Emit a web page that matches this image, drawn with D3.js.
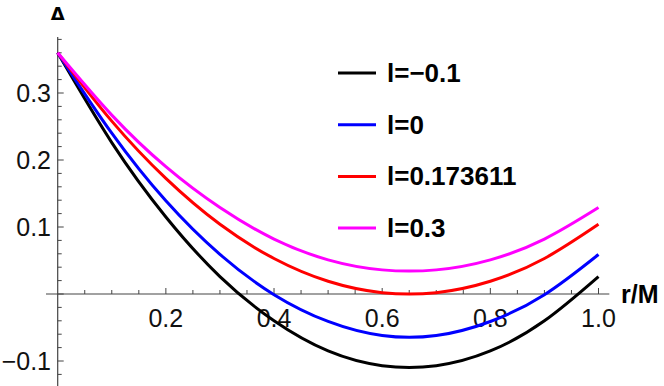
<!DOCTYPE html>
<html>
<head>
<meta charset="utf-8">
<script src="https://cdn.jsdelivr.net/npm/d3@7"></script>
<style>
    body { margin: 0; background: #fff; }
    text { font-family: "Liberation Sans", Arial, sans-serif; }
</style>
</head>
<body>
<div id="chart"></div>
<script>
const rValues = [0, 0.1, 0.2, 0.3, 0.4, 0.5, 0.6, 0.7, 0.8, 0.9, 1.0];

// Delta for each l value
const deltaLm01 = [0.360, 0.226, 0.115, 0.026, -0.040, -0.085, -0.107, -0.107, -0.085, -0.040, 0.026];
const deltaL0 = [0.360, 0.240, 0.139, 0.059, -0.001, -0.041, -0.062, -0.062, -0.041, -0.001, 0.059];
const deltaL0173611 = [0.360, 0.258, 0.1725, 0.104, 0.053, 0.019, 0.002, 0.002, 0.019, 0.053, 0.104];
const deltaL03 = [0.360, 0.267, 0.190, 0.129, 0.082, 0.051, 0.036, 0.036, 0.051, 0.082, 0.129];

const seriesNames = ["l=\u22120.1", "l=0", "l=0.173611", "l=0.3"];
const seriesColors = ["#000000", "#0000ff", "#ff0000", "#ff00ff"];

const xTicks = [0.2, 0.4, 0.6, 0.8, 1.0];
const yTicks = [-0.1, 0.1, 0.2, 0.3];

const w = 664;
const h = 386;

const x = d3.scaleLinear().domain([0, 1]).range([57.7, 598.5]);
const y = d3.scaleLinear().domain([0, 0.1]).range([294, 227]);

const svg = d3.select("#chart")
    .append("svg")
    .attr("width", w)
    .attr("height", h);

const axisColor = "#444";

// x axis
svg.append("line")
    .attr("x1", 46).attr("x2", x(1.02))
    .attr("y1", y(0)).attr("y2", y(0))
    .attr("stroke", axisColor).attr("stroke-width", 1.2);

// y axis
svg.append("line")
    .attr("x1", x(0)).attr("x2", x(0))
    .attr("y1", 37).attr("y2", h)
    .attr("stroke", axisColor).attr("stroke-width", 1.2);

// minor ticks, x every 0.05, y every 0.02
const xMinor = d3.range(1, 21).map(i => i * 0.05);
const yMinor = d3.range(-6, 20).map(i => i * 0.02);

svg.selectAll(".xtick")
    .data(xMinor)
    .enter()
    .append("line")
    .attr("x1", d => x(d)).attr("x2", d => x(d))
    .attr("y1", y(0))
    .attr("y2", d => y(0) - (Math.abs(d * 10 - Math.round(d * 10)) < 1e-6 && Math.round(d * 10) % 2 == 0 ? 6 : 4))
    .attr("stroke", axisColor).attr("stroke-width", 1);

svg.selectAll(".ytick")
    .data(yMinor)
    .enter()
    .append("line")
    .attr("x1", x(0))
    .attr("x2", d => x(0) + (Math.abs(d * 10 - Math.round(d * 10)) < 1e-6 ? 6 : 4))
    .attr("y1", d => y(d)).attr("y2", d => y(d))
    .attr("stroke", axisColor).attr("stroke-width", 1);

// tick labels
svg.selectAll(".xlabel")
    .data(xTicks)
    .enter()
    .append("text")
    .attr("x", d => x(d))
    .attr("y", y(0) + 33)
    .attr("text-anchor", "middle")
    .attr("font-size", 25)
    .attr("fill", "#111")
    .text(d => d.toFixed(1));

svg.selectAll(".ylabel")
    .data(yTicks)
    .enter()
    .append("text")
    .attr("x", 51)
    .attr("y", d => y(d) + 9)
    .attr("text-anchor", "end")
    .attr("font-size", 25)
    .attr("fill", "#111")
    .text(d => d < 0 ? "\u2212" + Math.abs(d).toFixed(1) : d.toFixed(1));

// axis titles
svg.append("text")
    .attr("x", x(0))
    .attr("y", 20)
    .attr("text-anchor", "middle")
    .attr("font-size", 18)
    .attr("font-weight", "bold")
    .style("font-family", "'DejaVu Sans', sans-serif")
    .text("\u0394");

svg.append("text")
    .attr("x", 621)
    .attr("y", 303)
    .attr("font-size", 25)
    .attr("font-weight", "bold")
    .text("r/M");

// curves
const allSeries = [deltaLm01, deltaL0, deltaL0173611, deltaL03];

const line = d3.line()
    .x((d, i) => x(rValues[i]))
    .y(d => y(d))
    .curve(d3.curveNatural);

svg.selectAll(".curve")
    .data(allSeries)
    .enter()
    .append("path")
    .attr("d", d => line(d))
    .attr("fill", "none")
    .attr("stroke", (d, i) => seriesColors[i])
    .attr("stroke-width", 3);

// legend
const legend = svg.selectAll(".legend")
    .data(seriesNames)
    .enter()
    .append("g")
    .attr("transform", (d, i) => "translate(338," + (73 + i * 51.7) + ")");

legend.append("line")
    .attr("x1", 0).attr("x2", 38)
    .attr("stroke", (d, i) => seriesColors[i])
    .attr("stroke-width", 3);

legend.append("text")
    .attr("x", 49)
    .attr("y", 9)
    .attr("font-size", 26)
    .attr("font-weight", "bold")
    .text(d => d);
</script>
</body>
</html>
